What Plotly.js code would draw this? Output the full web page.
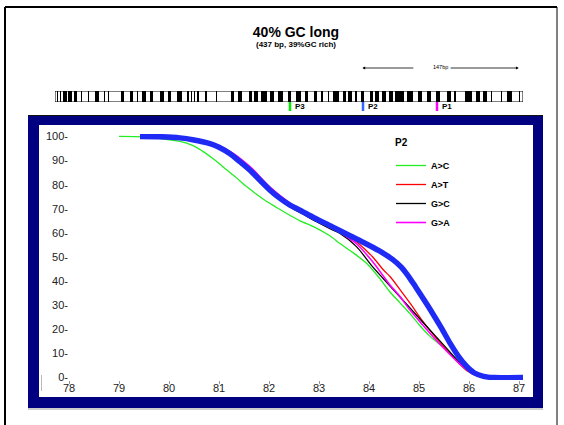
<!DOCTYPE html>
<html><head><meta charset="utf-8">
<script src="https://cdn.plot.ly/plotly-3.0.1.min.js"></script>
<style>html,body{margin:0;padding:0;background:#fff}#chart{width:564px;height:425px}</style>
</head><body><div id="chart"></div>
<script>
// ---------- data ----------
const xTicks = [78,79,80,81,82,83,84,85,86,87];
const yTicks = [0,10,20,30,40,50,60,70,80,90,100];
const yTickText = ['0-','10-','20-','30-','40-','50-','60-','70-','80-','90-','100-'];

// wild-type band (blue)
const wtTemp = [79.42,79.8,80.22,80.5,80.82,81.0,81.22,81.42,81.62,81.82,82.02,82.22,82.42,82.62,82.9,83.27,83.6,83.93,84.2,84.47,84.65,84.8,84.93,85.1,85.27,85.45,85.62,85.8,85.95,86.1,86.29,86.5,87.08];
const wtVal  = [100,99.9,99.4,98.5,97,95.5,92.8,89.5,86,81.8,77.7,74.3,71.5,69.4,66.3,62.5,59,55.6,52.6,49,45.7,41.7,37.7,32.3,26.7,20.5,14.3,8.5,4.7,2,0.5,0,0];

// A>C (green)
const acTemp = [79.0,79.5,79.87,80.2,80.47,80.7,80.93,81.13,81.33,81.53,81.73,81.93,82.13,82.4,82.62,82.9,83.2,83.42,83.7,83.95,84.2,84.42,84.62,84.82,85.02,85.2,85.4,85.62,85.89,86.05,86.22,86.5,87.08];
const acVal  = [100,99.8,99,98,96.3,93.5,90,86.5,83.2,79.5,76.3,73.3,70.8,67.5,65,62.5,59,55.6,51.5,47.4,41.5,35.5,31,26.5,21.5,17.5,14,10.2,5,2,0.3,0,0];

// A>T (red)
const atTemp = [79.42,80.22,80.82,81.22,81.62,82.02,82.42,82.7,83.0,83.3,83.55,83.75,84.07,84.29,84.42,84.62,84.85,85.07,85.4,85.7,85.95,86.2,86.5,87.08];
const atVal  = [100,99.5,97.3,93.3,87,78.5,72,68.5,65.5,62.5,59.5,56.3,50.1,44.6,41.9,36.5,30,23.5,15,8,3,0.5,0,0];

// G>C (black)
const gcTemp = [79.42,80.22,80.82,81.22,81.62,82.02,82.42,82.7,82.95,83.27,83.42,83.75,84.07,84.42,84.73,85.15,85.55,85.82,86.08,86.3,86.6,87.08];
const gcVal  = [100,99.4,96.8,92.5,85.5,77,70.8,67.5,64.6,61.2,59.8,54.3,46,38,30.9,21.3,12.2,6,1.9,0.3,0,0];

// G>A (magenta)
const gaTemp = [79.42,80.22,80.82,81.22,81.62,82.02,82.42,82.7,83.0,83.3,83.55,83.75,84.07,84.42,84.62,84.8,85.07,85.3,85.55,85.8,86.05,86.3,86.6,87.08];
const gaVal  = [100,99.6,97.6,93.8,87.5,79,72.3,68.5,65,61.8,58.5,55.5,48.1,38.4,33.6,28.5,21.9,16.5,11,6,2,0.3,0,0];

const seriesNames = ['A>C','A>T','G>C','G>A'];
const legendTitle = 'P2';

// sequence schematic (bp)
const seqLength = 437;
const gcStart = [2,5,7.4,12.5,17.5,24,31,37.7,46,49.5,61.3,69.7,76.5,81.5,88.3,98.4,105.1,113.5,123.6,127,130,133,140.5,150.6,164,170.8,181,186,192.7,201,207.9,218,224.7,233.1,241.6,248.3,255,260,268.5,273.6,280.3,285.3,293.8,298.8,305.6,312.3,317.4,329.1,339.3,347.7,356.1,366.2,373,383,393.2,400,406.7,416.8,421.8,433.6];
const gcEnd   = [3,6,10.8,15.8,20.9,25,32,41.1,47,50.5,64.7,73.1,77.5,84.9,91.6,101.7,108.5,118.6,125.3,128,131,134,141.5,151.6,167.4,174.2,184.3,189.4,197.8,204.5,212.9,220.7,229.8,236.5,245,250,256,265.2,271.9,277,282,288.7,297.1,302.2,309,315.7,325.8,334.2,342.6,351,359.5,369.6,374,389.8,396.5,403.3,407.7,417.8,426.9,434.6];
const primerNames = ['P3','P2','P1'];
const primerPos   = [219.4,287.6,356.7];
const primerColors= ['#00ee00','#3366ff','#ff00ff'];
const spanStart = 287, spanEnd = 433, spanLabel = '147bp';

// ---------- layout helpers (pixel -> paper) ----------
const W=564,H=425,ML=40,MR=30,MT=80,MB=45;
const PW=W-ML-MR, PH=H-MT-MB;
const xp = px => (px-ML)/PW;
const yp = py => (H-MB-py)/PH;
const FONT = 'Liberation Sans, Arial, sans-serif';

const colors = ['#22ee22','#ff0000','#000000','#ff00ff'];
const temps = [acTemp, atTemp, gcTemp, gaTemp];
const vals  = [acVal, atVal, gcVal, gaVal];

const traces = [];
for (let i=0;i<4;i++){
  traces.push({x:temps[i], y:vals[i], type:'scatter', mode:'lines', name:seriesNames[i],
    line:{color:colors[i], width: i===3?1.6:1.3, shape:'spline', smoothing:0.8},
    xaxis:'x', yaxis:'y', hoverinfo:'skip'});
}
traces.push({x:wtTemp, y:wtVal, type:'scatter', mode:'lines', name:'WT', showlegend:false,
  line:{color:'#1f2bf5', width:5.5, shape:'spline', smoothing:0.8}, xaxis:'x', yaxis:'y'});

// sequence bars
traces.push({type:'bar', x:gcStart.map((s,i)=>(s+gcEnd[i])/2), y:gcStart.map(()=>1),
  width:gcStart.map((s,i)=>gcEnd[i]-s), marker:{color:'#000', line:{width:0}},
  xaxis:'x2', yaxis:'y2', showlegend:false, hoverinfo:'skip'});

const shapes = [
  // outer page border
  {type:'line', xref:'paper', yref:'paper', x0:xp(5), x1:xp(5), y0:yp(7), y1:yp(426), line:{color:'#000', width:2}},
  {type:'line', xref:'paper', yref:'paper', x0:xp(5), x1:xp(557), y0:yp(7), y1:yp(7), line:{color:'#000', width:2}},
  {type:'line', xref:'paper', yref:'paper', x0:xp(557), x1:xp(557), y0:yp(7), y1:yp(426), line:{color:'#000', width:1}},
  // navy frame
  {type:'rect', layer:'below', xref:'paper', yref:'paper', x0:xp(28), x1:xp(543), y0:yp(408), y1:yp(115), fillcolor:'#000080', line:{width:0}},
  {type:'line', layer:'below', xref:'paper', yref:'paper', x0:xp(28), x1:xp(543), y0:yp(115.5), y1:yp(115.5), line:{color:'#111', width:1}},
  {type:'line', layer:'below', xref:'paper', yref:'paper', x0:xp(28), x1:xp(543), y0:yp(409), y1:yp(409), line:{color:'#999', width:1}},
  {type:'rect', layer:'below', xref:'paper', yref:'paper', x0:xp(39), x1:xp(533), y0:yp(397), y1:yp(125), fillcolor:'#ffffff', line:{width:0}},
  {type:'line', layer:'below', xref:'paper', yref:'paper', x0:xp(41.5), x1:xp(41.5), y0:yp(375), y1:yp(391), line:{color:'#bbb', width:1}},
  // sequence outline
  {type:'rect', xref:'x2', yref:'y2', x0:0, x1:seqLength, y0:0, y1:1, line:{color:'#000', width:1}, fillcolor:'rgba(0,0,0,0)'},
];
primerPos.forEach((p,i)=>{
  shapes.push({type:'line', xref:'x2', yref:'paper', x0:p, x1:p, y0:yp(111), y1:yp(102), line:{color:primerColors[i], width:2.5}});
});

const annotations = [
  {xref:'paper', yref:'paper', x:xp(296), y:yp(45), text:'(437 bp, 39%GC rich)', showarrow:false,
   font:{family:FONT, size:8, color:'#000', weight:'bold'}, xanchor:'center', yanchor:'middle'},
  {xref:'x2', yref:'paper', x:(spanStart+spanEnd)/2, y:yp(67), text:spanLabel, showarrow:false,
   font:{family:FONT, size:5.5, color:'#000'}, xanchor:'center', yanchor:'middle'},
  {xref:'x2', yref:'paper', axref:'x2', ayref:'pixel', x:spanStart, ax:336, y:yp(68), ay:0, text:'', showarrow:true,
   arrowhead:2, arrowsize:0.7, arrowwidth:0.8, arrowcolor:'#000'},
  {xref:'x2', yref:'paper', axref:'x2', ayref:'pixel', x:spanEnd, ax:368, y:yp(68), ay:0, text:'', showarrow:true,
   arrowhead:2, arrowsize:0.7, arrowwidth:0.8, arrowcolor:'#000'},
  // legend heading
  {xref:'paper', yref:'paper', x:xp(393), y:yp(142), text:legendTitle, showarrow:false, xanchor:'left', yanchor:'middle',
   font:{family:FONT, size:10, color:'#000', weight:'bold'}},
];
primerPos.forEach((p,i)=>{
  annotations.push({xref:'x2', yref:'paper', x:p, xshift:3, y:yp(107), text:primerNames[i], showarrow:false,
    xanchor:'left', yanchor:'middle', font:{family:FONT, size:8, color:'#000', weight:'bold'}});
});

const layout = {
  width:W, height:H, margin:{l:ML, r:MR, t:MT, b:MB, pad:0},
  paper_bgcolor:'#ffffff', plot_bgcolor:'rgba(0,0,0,0)',
  font:{family:FONT, color:'#222'},
  title:{text:'40% GC long', x:296/W, xanchor:'center', y:1-32/H, yanchor:'middle',
    font:{family:FONT, size:14, color:'#000', weight:'bold'}},
  showlegend:true,
  legend:{x:xp(391), xanchor:'left', y:yp(151), yanchor:'top', bgcolor:'rgba(0,0,0,0)',
    font:{family:FONT, size:9, color:'#000', weight:'bold'}, itemwidth:30},
  xaxis:{domain:[xp(69), xp(524)], range:[78,87.1], tickvals:xTicks, ticks:'outside', ticklen:3,
    tickcolor:'#999', tickwidth:1, showgrid:false, zeroline:false, showline:false, ticklabelstandoff:-5,
    tickfont:{family:FONT, size:11, color:'#222'}, anchor:'y', fixedrange:true},
  yaxis:{domain:[0, yp(134)], range:[-1,101], tickvals:yTicks, ticktext:yTickText, ticks:'', showgrid:false,
    zeroline:false, showline:false, tickfont:{family:FONT, size:11, color:'#222'}, anchor:'x', fixedrange:true},
  xaxis2:{domain:[xp(55), xp(523)], range:[0,seqLength], visible:false, anchor:'y2', fixedrange:true},
  yaxis2:{domain:[yp(102), yp(91)], range:[0,1], visible:false, anchor:'x2', fixedrange:true},
  bargap:0,
  shapes:shapes, annotations:annotations
};

Plotly.newPlot('chart', traces, layout, {staticPlot:true, displayModeBar:false});
</script></body></html>
